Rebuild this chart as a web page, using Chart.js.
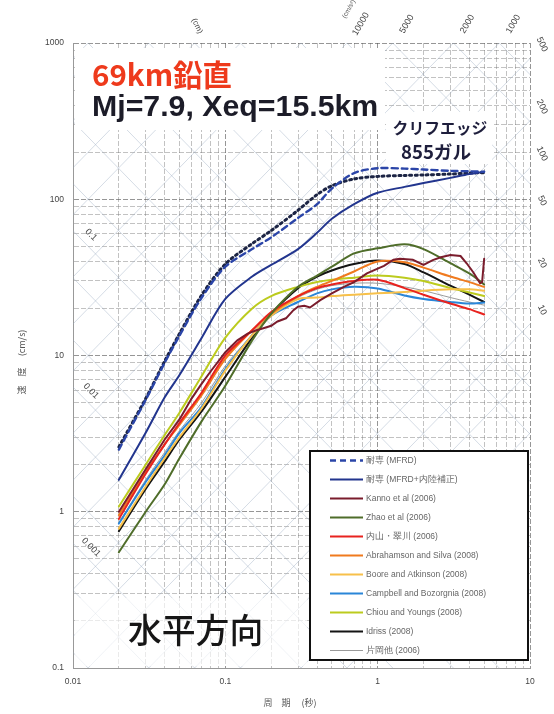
<!DOCTYPE html>
<html>
<head>
<meta charset="utf-8">
<script src="https://cdn.jsdelivr.net/npm/chart.js@4.4.1/dist/chart.umd.min.js"></script>
<style>
  html, body { margin: 0; padding: 0; background: #fff; }
  canvas { display: block; }
</style>
</head>
<body>
<canvas id="spec" width="554" height="714"></canvas>
<script>
// Periods (s) shared by the smooth spectra
const periods = [0.02, 0.03, 0.04, 0.05, 0.07, 0.1, 0.15, 0.2, 0.3, 0.4, 0.5, 0.7, 1, 1.5, 2, 3, 4, 5];

// Pseudo-velocity response spectra (cm/s)
const mfrd        = [2.5, 5.2, 9.0, 13.4, 23.5, 37, 48, 57, 76, 93, 117, 147, 158, 157, 155, 152, 151, 150];
const mfrdUpper   = [2.6, 5.3, 9.2, 13.8, 24.4, 38.5, 52, 63, 85, 107, 122, 135, 140, 142, 143, 145, 147, 148];
const mfrdInland  = [1.6, 3.2, 5.4, 7.5, 13, 23, 32, 38, 48, 61, 75, 93, 110, 120, 127, 137, 145, 150];
const zhao        = [0.55, 1.0, 1.5, 2.2, 3.8, 6.4, 12.5, 18.5, 27.5, 32.5, 37, 45, 48.5, 51.5, 48, 39, 33.5, 28.5];
const uchiyama    = [0.9, 1.75, 2.7, 3.7, 5.8, 10, 14.5, 19, 24, 27, 28.5, 30, 30.5, 27, 24.5, 21.5, 19.8, 18.3];
const abrahamson  = [0.95, 1.8, 2.7, 3.6, 5.6, 9.5, 14.5, 18.5, 24, 27.5, 30, 34.5, 40, 39.5, 36.5, 32, 29.5, 27.5];
const boore       = [0.78, 1.45, 2.2, 3.0, 4.6, 8.0, 13.5, 18, 23, 23.5, 24, 24.5, 25, 25.5, 26, 26.5, 26.5, 26];
const campbell    = [0.84, 1.55, 2.3, 3.2, 4.7, 8.2, 13.5, 18, 22, 25, 26.5, 27.5, 26.8, 24.2, 23, 22, 21.5, 21.8];
const chiou       = [1.08, 2.0, 3.1, 4.3, 7.4, 13, 20, 24, 27.5, 29.5, 30.5, 31.5, 32.5, 31.5, 30, 27, 25.3, 24];
const idriss      = [0.75, 1.4, 2.1, 2.9, 4.4, 7.3, 13, 18.5, 27, 32, 35, 38.5, 40.5, 38.5, 34, 28, 24.5, 22];
const kataoka     = [0.85, 1.6, 2.4, 3.3, 5.0, 8.6, 13.5, 18, 23.5, 26.5, 28, 29, 29, 27.5, 26, 23.5, 22, 21];

// Kanno et al. is irregular, so it keeps its own period list
const kannoPeriods = [0.02, 0.03, 0.04, 0.05, 0.06, 0.07, 0.08, 0.1, 0.12, 0.14, 0.16, 0.18, 0.2, 0.22, 0.25, 0.28, 0.3, 0.33, 0.36, 0.42, 0.5, 0.6, 0.7, 0.85, 1.0, 1.1, 1.27, 1.4, 1.7, 2.0, 2.3, 2.6, 3.0, 3.5, 3.85, 4.25, 4.7, 4.85, 5.0];
const kanno        = [1.0, 1.87, 2.9, 3.9, 5.3, 6.6, 7.9, 10.5, 12.5, 13.8, 14.5, 15, 15.5, 16.5, 17.3, 19.5, 20.5, 20.8, 20.3, 22.6, 25, 27.5, 29.5, 33.5, 36, 37.5, 41, 41.6, 41, 38, 40.8, 42.5, 44, 43.3, 38.8, 34, 29, 29.5, 41.6];

// Legend texts
const legendLabels = [
  '耐専 (MFRD)', '耐専 (MFRD+内陸補正)', 'Kanno et al (2006)', 'Zhao et al (2006)',
  '内山・翠川 (2006)', 'Abrahamson and Silva (2008)', 'Boore and Atkinson (2008)',
  'Campbell and Bozorgnia (2008)', 'Chiou and Youngs (2008)', 'Idriss (2008)', '片岡他 (2006)'
];

// Axis tick labels
const xTickLabels = ['0.01', '0.1', '1', '10'];
const yTickLabels = ['0.1', '1', '10', '100', '1000'];

// Tripartite guide lines: displacement (cm) and acceleration (cm/s2)
const dispLevels  = [];
const accelLevels = [];
[1, 2, 5].forEach(m => {
  for (let k = -4; k <= 3; k++) dispLevels.push(m * Math.pow(10, k));
  for (let k = 0; k <= 5; k++) accelLevels.push(m * Math.pow(10, k));
});
const dispLabelValues   = [0.1, 0.01, 0.001];
const dispLabels        = ['0.1', '0.01', '0.001'];
const accelTopValues    = [10000, 5000, 2000, 1000];
const accelTopLabels    = ['10000', '5000', '2000', '1000'];
const accelRightValues  = [500, 200, 100, 50, 20, 10];
const accelRightLabels  = ['500', '200', '100', '50', '20', '10'];

// Log grid positions (1..9 per decade)
function logGrid(lo, hi) {
  const out = [];
  for (let e = lo; e < hi; e++) for (let m = 1; m < 10; m++) out.push(+(m * Math.pow(10, e)).toPrecision(3));
  out.push(Math.pow(10, hi));
  return out;
}
const xGrid = logGrid(-2, 1);
const yGrid = logGrid(-1, 3);

const pts = (xs, ys) => xs.map((t, i) => ({ x: t, y: ys[i] }));

const series = [
  { label: legendLabels[0], data: pts(periods, mfrd),       borderColor: '#2b45a8', borderWidth: 2.4, borderDash: [6, 4] },
  { label: legendLabels[1], data: pts(periods, mfrdInland), borderColor: '#22358e', borderWidth: 2 },
  { label: legendLabels[2], data: pts(kannoPeriods, kanno), borderColor: '#7a1c2c', borderWidth: 2, tension: 0 },
  { label: legendLabels[3], data: pts(periods, zhao),       borderColor: '#4f6d2a', borderWidth: 2 },
  { label: legendLabels[4], data: pts(periods, uchiyama),   borderColor: '#e8231f', borderWidth: 2 },
  { label: legendLabels[5], data: pts(periods, abrahamson), borderColor: '#f07a1e', borderWidth: 2 },
  { label: legendLabels[6], data: pts(periods, boore),      borderColor: '#f7c04a', borderWidth: 2 },
  { label: legendLabels[7], data: pts(periods, campbell),   borderColor: '#2a86d8', borderWidth: 2 },
  { label: legendLabels[8], data: pts(periods, chiou),      borderColor: '#bccb1e', borderWidth: 2 },
  { label: legendLabels[9], data: pts(periods, idriss),     borderColor: '#141414', borderWidth: 2 },
  { label: legendLabels[10], data: pts(periods, kataoka),   borderColor: '#9a9a9a', borderWidth: 1 },
  { label: '', data: pts(periods, mfrdUpper), borderColor: '#1c2444', borderWidth: 3, borderDash: [2, 3.5], inLegend: false }
];

const deg = Math.PI / 180;
function drawText(ctx, s, x, y, o) {
  ctx.save();
  ctx.translate(x, y);
  if (o.rot) ctx.rotate(o.rot * deg);
  ctx.font = o.font;
  ctx.fillStyle = o.color || '#444';
  ctx.textAlign = o.align || 'center';
  ctx.textBaseline = 'middle';
  ctx.fillText(s, 0, 0);
  ctx.restore();
}
function fitFont(ctx, s, weight, family, width) {
  ctx.save();
  ctx.font = weight + ' 100px ' + family;
  const w = ctx.measureText(s).width;
  ctx.restore();
  return weight + ' ' + (100 * width / w).toFixed(1) + 'px ' + family;
}

const SANS = '"Liberation Sans", Arial, sans-serif';
const CJK = '"Noto Sans CJK JP", "Noto Sans", sans-serif';

const tripartite = {
  id: 'tripartite',
  beforeDatasetsDraw(chart) {
    const { ctx, chartArea: a, scales: { x, y } } = chart;
    ctx.save();
    ctx.beginPath();
    ctx.rect(a.left, a.top, a.right - a.left, a.bottom - a.top);
    ctx.clip();
    ctx.lineWidth = 0.8;
    ctx.strokeStyle = 'rgba(150,168,190,0.5)';
    const T0 = 0.001, T1 = 100;
    // constant displacement: V = 2*pi*D/T
    dispLevels.forEach(D => {
      ctx.beginPath();
      ctx.moveTo(x.getPixelForValue(T0), y.getPixelForValue(2 * Math.PI * D / T0));
      ctx.lineTo(x.getPixelForValue(T1), y.getPixelForValue(2 * Math.PI * D / T1));
      ctx.stroke();
    });
    // constant acceleration: V = A*T/(2*pi)
    accelLevels.forEach(A => {
      ctx.beginPath();
      ctx.moveTo(x.getPixelForValue(T0), y.getPixelForValue(A * T0 / (2 * Math.PI)));
      ctx.lineTo(x.getPixelForValue(T1), y.getPixelForValue(A * T1 / (2 * Math.PI)));
      ctx.stroke();
    });

    // white panels behind the headings
    ctx.fillStyle = '#fff';
    ctx.fillRect(a.left + 2, 48, 310, 82);
    ctx.fillRect(386, 112, 106, 52);
    ctx.fillStyle = 'rgba(255,255,255,0.65)';
    ctx.fillRect(a.left + 2, 598, 232, 68);
    ctx.restore();

    // headings
    drawText(ctx, '69km鉛直', 92, 75, { font: fitFont(ctx, '69km鉛直', 'bold', CJK, 140), color: '#ee3a1c', align: 'left' });
    drawText(ctx, 'Mj=7.9, Xeq=15.5km', 92, 108, { font: fitFont(ctx, 'Mj=7.9, Xeq=15.5km', 'bold', SANS, 286), color: '#1c1c28', align: 'left' });
    drawText(ctx, 'クリフエッジ', 440, 128, { font: fitFont(ctx, 'クリフエッジ', 'bold', CJK, 95), color: '#1e1e3c' });
    drawText(ctx, '855ガル', 436, 152, { font: fitFont(ctx, '855ガル', 'bold', CJK, 70), color: '#1e1e3c' });
    drawText(ctx, '水平方向', 128, 630, { font: fitFont(ctx, '水平方向', '500', CJK, 135), color: '#161616', align: 'left' });
  },
  afterDatasetsDraw(chart) {
    const { ctx } = chart;
    // legend panel
    const L = { left: 310, top: 451, right: 528, bottom: 660, row0: 460.5, gap: 19, x0: 330, x1: 363, tx: 366 };
    ctx.save();
    ctx.fillStyle = '#fff';
    ctx.fillRect(L.left, L.top, L.right - L.left, L.bottom - L.top);
    ctx.lineWidth = 2;
    ctx.strokeStyle = '#111';
    ctx.strokeRect(L.left, L.top, L.right - L.left, L.bottom - L.top);
    let row = 0;
    chart.data.datasets.forEach(ds => {
      if (ds.inLegend === false) return;
      const yy = L.row0 + row * L.gap;
      ctx.beginPath();
      ctx.setLineDash(ds.borderDash || []);
      ctx.strokeStyle = ds.borderColor;
      ctx.lineWidth = ds.borderWidth;
      ctx.moveTo(L.x0, yy);
      ctx.lineTo(L.x1, yy);
      ctx.stroke();
      ctx.setLineDash([]);
      drawText(ctx, ds.label, L.tx, yy, { font: '8.5px ' + SANS, color: '#666', align: 'left' });
      row++;
    });
    ctx.restore();
  },
  afterDraw(chart) {
    const { ctx, chartArea: a, scales: { x, y } } = chart;
    const f = '9px ' + SANS;
    // displacement labels on the left edge
    dispLabelValues.forEach((D, i) => {
      const yy = y.getPixelForValue(2 * Math.PI * D / 0.01);
      drawText(ctx, dispLabels[i], a.left + 18, yy + 4, { font: f, rot: 45, color: '#444' });
    });
    drawText(ctx, '(cm)', 197, 26, { font: '8px ' + SANS, rot: 65, color: '#444' });
    // acceleration labels along the top
    accelTopValues.forEach((A, i) => {
      const xx = x.getPixelForValue(2 * Math.PI * 1000 / A);
      drawText(ctx, accelTopLabels[i], xx + 14, 24, { font: f, rot: -60, color: '#444' });
    });
    drawText(ctx, '(cm/s²)', 349, 9, { font: '6.5px ' + SANS, rot: -60, color: '#555' });
    // acceleration labels along the right edge
    accelRightValues.forEach((A, i) => {
      const yy = y.getPixelForValue(A * 10 / (2 * Math.PI));
      drawText(ctx, accelRightLabels[i], a.right + 12, yy - 14, { font: f, rot: 65, color: '#444' });
    });
    // axis titles
    drawText(ctx, '周　期　 (秒)', 290, 703, { font: '9px ' + CJK, color: '#555' });
    drawText(ctx, '速　度　 (cm/s)', 22, 362, { font: '9px ' + CJK, rot: -90, color: '#555' });
  }
};

const gridColor = (c) => {
  const v = c.tick ? c.tick.value : 1;
  const l = Math.log10(v);
  return Math.abs(l - Math.round(l)) < 1e-6 ? 'rgba(80,80,80,0.6)' : 'rgba(110,110,110,0.42)';
};

new Chart(document.getElementById('spec'), {
  type: 'line',
  data: { datasets: series },
  options: {
    responsive: false,
    animation: false,
    layout: { padding: { left: 0, top: 43, right: 24, bottom: 0 } },
    plugins: { legend: { display: false }, tooltip: { enabled: false } },
    elements: { point: { radius: 0 }, line: { tension: 0.3, fill: false, borderCapStyle: 'round' } },
    scales: {
      x: {
        type: 'logarithmic', min: 0.01, max: 10,
        afterBuildTicks: s => { s.ticks = xGrid.map(v => ({ value: v })); },
        afterFit: s => { s.height = 46; },
        ticks: {
          autoSkip: false, maxRotation: 0, padding: 9,
          font: { family: SANS, size: 8.5 }, color: '#444',
          callback: v => { const i = xTickLabels.findIndex(t => Math.abs(+t - v) < 1e-9); return i >= 0 ? xTickLabels[i] : ''; }
        },
        grid: { color: gridColor, lineWidth: 1, drawTicks: false },
        border: { display: true, color: '#999', dash: [5, 2] }
      },
      y: {
        type: 'logarithmic', min: 0.1, max: 1000,
        afterBuildTicks: s => { s.ticks = yGrid.map(v => ({ value: v })); },
        afterFit: s => { s.width = 73; },
        ticks: {
          autoSkip: false, padding: 9,
          font: { family: SANS, size: 8.5 }, color: '#444',
          callback: v => { const i = yTickLabels.findIndex(t => Math.abs(+t - v) < 1e-9); return i >= 0 ? yTickLabels[i] : ''; }
        },
        grid: { color: gridColor, lineWidth: 1, drawTicks: false },
        border: { display: true, color: '#999', dash: [5, 2] }
      }
    }
  },
  plugins: [tripartite]
});
</script>
</body>
</html>
